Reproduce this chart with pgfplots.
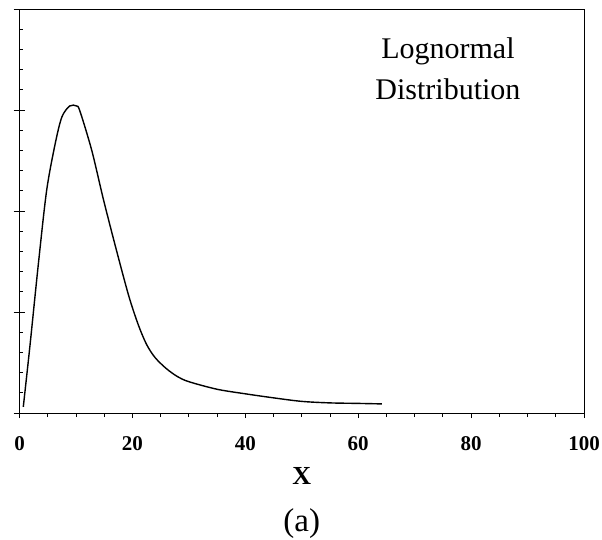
\documentclass[border=0pt]{standalone}
\usepackage{pgfplots}
\pgfplotsset{compat=1.18}
\usepackage{fontspec}
\setmainfont{Liberation Serif}[BoldFont={Liberation Serif Bold}]
\begin{document}
\begin{tikzpicture}
\begin{axis}[
  scale only axis, width=564.5pt, height=404pt,
  xmin=0, xmax=100, ymin=0, ymax=4,
  xtick={0,20,...,100}, minor x tick num=3,
  xtick pos=bottom, ytick pos=left,
  xtick align=outside, ytick align=inside,
  ytick={0,1,2,3,4}, yticklabels={}, minor y tick num=4,
  extra y ticks={0,1,2,3,4}, extra y tick labels={},
  extra y tick style={major tick length=12pt, tick align=center},
  major tick length=5pt, minor tick length=4pt,
  tick style={black, line width=0.8pt},
  axis line style={line width=0.9pt},
  /pgf/number format/assume math mode=true,
  xticklabel={\fontsize{21}{21}\selectfont\textbf{\pgfmathprintnumber{\tick}}},
  x tick label style={anchor=center, yshift=-26pt},
  xlabel={\textbf{X}},
  xlabel style={font=\fontsize{26}{26}\selectfont, at={(rel axis cs:0.5,0)}, anchor=center, yshift=-63pt},
  clip=false,
]
\addplot[black, line width=1.4pt, smooth, tension=0.5] coordinates {
(0.67,0.06)(1.86,0.67)(3.33,1.47)(4.8,2.2)(6.3,2.66)(7.5,2.93)(8.9,3.04)(10.1,3.04)(10.7,2.99)
(12.8,2.60)(14.8,2.13)(16.9,1.67)(19.3,1.17)(21.0,0.88)(22.5,0.68)(24.0,0.55)(26.0,0.44)
(28.0,0.36)(30.0,0.31)(35.0,0.235)(40.0,0.19)(45.0,0.15)(50.0,0.115)(55.0,0.10)(60.0,0.095)(64.2,0.09)
};
\node[font=\fontsize{30}{41}\selectfont, align=center] at (axis cs:75.9,3.41) {Lognormal\\Distribution};
\node[font=\fontsize{33}{33}\selectfont] at ([yshift=-111pt]rel axis cs:0.5,0) {(a)};
\coordinate (bl) at ([xshift=-19.5pt, yshift=-127pt]rel axis cs:0,0);
\coordinate (tr) at ([xshift=18pt, yshift=9pt]rel axis cs:1,1);
\end{axis}
\pgfresetboundingbox
\path[use as bounding box] (bl) rectangle (tr);
\end{tikzpicture}
\end{document}
